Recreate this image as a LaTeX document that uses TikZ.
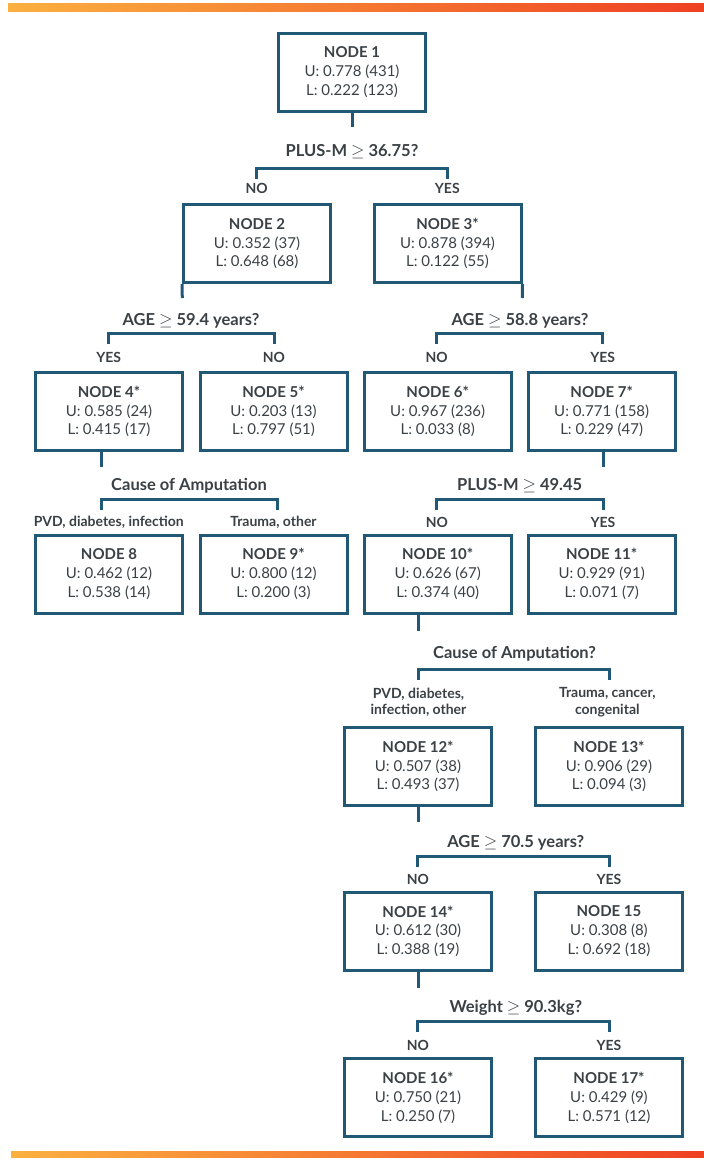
\documentclass[tikz,border=0pt]{standalone}
\usepackage{fontspec}
\setsansfont{Lato}
\usepackage{tikz}
\usetikzlibrary{positioning,calc}

\begin{document}
\begin{tikzpicture}[
    x=1pt, y=-1pt,
    font=\sffamily,
    nodebox/.style={
        rectangle,
        draw=treeblue,
        line width=3pt,
        align=center,
        minimum width=147pt,
        minimum height=78pt,
        inner sep=0pt,
        text=textgray,
        font=\sffamily\fontsize{15}{18.7}\selectfont
    },
    split/.style={
        align=center,
        inner sep=0pt,
        text=textgray,
        font=\sffamily\bfseries\fontsize{16.5}{18}\selectfont
    },
    answer/.style={
        align=center,
        inner sep=0pt,
        text=textgray,
        font=\sffamily\bfseries\fontsize{14}{16.7}\selectfont
    },
    branch/.style={
        line width=3pt,
        draw=treeblue
    }
]

\definecolor{treeblue}{RGB}{33,88,118}
\definecolor{textgray}{RGB}{58,64,68}
\definecolor{bandyellow}{RGB}{251,176,64}
\definecolor{bandred}{RGB}{239,65,35}

\useasboundingbox (0,0) rectangle (704,1160);

% Colour bands
\shade[left color=bandyellow, right color=bandred] (8,3) rectangle (704,11);
\shade[left color=bandyellow, right color=bandred] (11,1151) rectangle (704,1157);

% Tree nodes
\node[nodebox] (n1) at (352,72) {{\bfseries NODE 1}\\U: 0.778 (431)\\L: 0.222 (123)};
\node[nodebox] (n2) at (257,243.7) {{\bfseries NODE 2}\\U: 0.352 (37)\\L: 0.648 (68)};
\node[nodebox] (n3) at (447.5,243.7) {{\bfseries NODE 3*}\\U: 0.878 (394)\\L: 0.122 (55)};
\node[nodebox] (n4) at (109,411.5) {{\bfseries NODE 4*}\\U: 0.585 (24)\\L: 0.415 (17)};
\node[nodebox] (n5) at (273.5,411.5) {{\bfseries NODE 5*}\\U: 0.203 (13)\\L: 0.797 (51)};
\node[nodebox] (n6) at (437.7,411.5) {{\bfseries NODE 6*}\\U: 0.967 (236)\\L: 0.033 (8)};
\node[nodebox] (n7) at (601.7,411.5) {{\bfseries NODE 7*}\\U: 0.771 (158)\\L: 0.229 (47)};
\node[nodebox] (n8) at (109,574) {{\bfseries NODE 8}\\U: 0.462 (12)\\L: 0.538 (14)};
\node[nodebox] (n9) at (273.5,574) {{\bfseries NODE 9*}\\U: 0.800 (12)\\L: 0.200 (3)};
\node[nodebox] (n10) at (437.7,574) {{\bfseries NODE 10*}\\U: 0.626 (67)\\L: 0.374 (40)};
\node[nodebox] (n11) at (601.7,574) {{\bfseries NODE 11*}\\U: 0.929 (91)\\L: 0.071 (7)};
\node[nodebox] (n12) at (418,766.7) {{\bfseries NODE 12*}\\U: 0.507 (38)\\L: 0.493 (37)};
\node[nodebox] (n13) at (609,766.7) {{\bfseries NODE 13*}\\U: 0.906 (29)\\L: 0.094 (3)};
\node[nodebox] (n14) at (418,931.2) {{\bfseries NODE 14*}\\U: 0.612 (30)\\L: 0.388 (19)};
\node[nodebox] (n15) at (609,931.2) {{\bfseries NODE 15}\\U: 0.308 (8)\\L: 0.692 (18)};
\node[nodebox] (n16) at (418,1097.8) {{\bfseries NODE 16*}\\U: 0.750 (21)\\L: 0.250 (7)};
\node[nodebox] (n17) at (609,1097.8) {{\bfseries NODE 17*}\\U: 0.429 (9)\\L: 0.571 (12)};

% Split questions
\node[split] (q1) at (352,151.7) {PLUS-M $\geq$ 36.75?};
\node[split] (q2) at (191,321) {AGE $\geq$ 59.4 years?};
\node[split] (q3) at (520,321) {AGE $\geq$ 58.8 years?};
\node[split] (q4) at (189,486) {Cause of Amputation};
\node[split] (q5) at (519.7,486) {PLUS-M $\geq$ 49.45};
\node[split] (q6) at (514.5,654) {Cause of Amputation?};
\node[split] (q7) at (515.8,842.7) {AGE $\geq$ 70.5 years?};
\node[split] (q8) at (515.8,1008) {Weight $\geq$ 90.3kg?};

% Branch answers
\node[answer] (a1l) at (256.7,188) {NO};
\node[answer] (a1r) at (447.3,188) {YES};
\node[answer] (a2l) at (108.7,357) {YES};
\node[answer] (a2r) at (274,357) {NO};
\node[answer] (a3l) at (436.7,357) {NO};
\node[answer] (a3r) at (602.7,357) {YES};
\node[answer] (a4l) at (108.8,522.7) {PVD, diabetes, infection};
\node[answer] (a4r) at (273.5,522.7) {Trauma, other};
\node[answer] (a5l) at (437,522.7) {NO};
\node[answer] (a5r) at (603,522.7) {YES};
\node[answer] (a6l) at (418.5,702.3) {PVD, diabetes,\\infection, other};
\node[answer] (a6r) at (607.3,702.3) {Trauma, cancer,\\congenital};
\node[answer] (a7l) at (418,879.3) {NO};
\node[answer] (a7r) at (609,879.3) {YES};
\node[answer] (a8l) at (418,1045.7) {NO};
\node[answer] (a8r) at (609,1045.7) {YES};

% Stem ends and bracket corners
\coordinate (s1) at (352,126.7);
\coordinate (s2) at (182.3,298);
\coordinate (s3) at (522.3,298);
\coordinate (s4) at (101,466.7);
\coordinate (s7) at (603.3,466.7);
\coordinate (s10) at (418.7,630.7);
\coordinate (s12) at (418.3,821.7);
\coordinate (s14) at (418,988.3);

\coordinate (b1l) at (256.7,168.3); \coordinate (b1r) at (447.3,168.3);
\coordinate (b2l) at (108.7,333); \coordinate (b2r) at (274,333);
\coordinate (b3l) at (436.7,333); \coordinate (b3r) at (602.7,333);
\coordinate (b4l) at (101,499.3); \coordinate (b4r) at (277.7,499.3);
\coordinate (b5l) at (436.7,499.3); \coordinate (b5r) at (603.3,499.3);
\coordinate (b6l) at (418.7,669); \coordinate (b6r) at (609.3,669);
\coordinate (b7l) at (417.7,856.7); \coordinate (b7r) at (609.3,856.7);
\coordinate (b8l) at (417.7,1021); \coordinate (b8r) at (609.3,1021);

% Stems
\draw[branch] (n1.south) -- (s1);
\draw[branch] (n2.south west) -- (s2);
\draw[branch] (n3.south east) -- (s3);
\draw[branch] (n4.south -| s4) -- (s4);
\draw[branch] (n7.south -| s7) -- (s7);
\draw[branch] (n10.south -| s10) -- (s10);
\draw[branch] (n12.south -| s12) -- (s12);
\draw[branch] (n14.south -| s14) -- (s14);

% Brackets
\foreach \k in {1,...,8}{
    \draw[branch] ([yshift=-10.5pt]b\k l) -- (b\k l) -- (b\k r) -- ([yshift=-10.5pt]b\k r);
}

\end{tikzpicture}
\end{document}
